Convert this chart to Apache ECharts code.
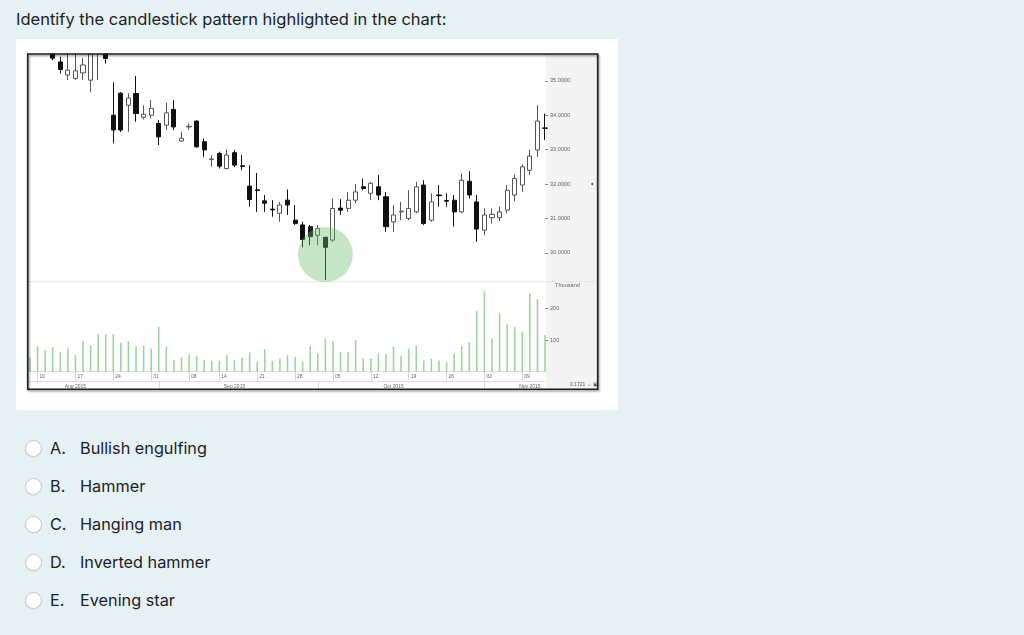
<!DOCTYPE html>
<html lang="en">
<head>
<meta charset="UTF-8">
<script src="https://cdn.jsdelivr.net/npm/echarts@6/dist/echarts.min.js"></script>
<title>candlestick quiz</title>
<style>
  body{margin:0;width:1024px;height:635px;overflow:hidden;background:#e5f1f3;
       font-family:Inter,"Helvetica Neue",Arial,sans-serif;color:#1d2125;position:relative}
  .q{position:absolute;left:16px;top:9px;font-size:16.5px;line-height:20px;white-space:nowrap}
  .panel{position:absolute;left:16px;top:39px;width:602px;height:371px;background:#fff}
  #chart{width:602px;height:371px}
  .radio{position:absolute;left:25px;width:15px;height:15px;border:1px solid #c3c8cb;border-radius:50%;
         background:#fff;box-shadow:0 1px 1px rgba(0,0,0,0.06)}
  .let,.txt{position:absolute;font-size:16.25px;line-height:20px;white-space:nowrap}
  .let{left:50px}
  .txt{left:80px}
</style>
</head>
<body>
<div class="q">Identify the candlestick pattern highlighted in the chart:</div>
<div class="panel"><div id="chart"></div></div>
<div id="opts"></div>
<script type="text/javascript">
// trading days Aug 7 - Nov 12 2015
var dates=['2015-08-07','2015-08-10','2015-08-11','2015-08-12','2015-08-13','2015-08-14',
  '2015-08-17','2015-08-18','2015-08-19','2015-08-20','2015-08-21',
  '2015-08-24','2015-08-25','2015-08-26','2015-08-27','2015-08-28',
  '2015-08-31','2015-09-01','2015-09-02','2015-09-03','2015-09-04',
  '2015-09-08','2015-09-09','2015-09-10','2015-09-11',
  '2015-09-14','2015-09-15','2015-09-16','2015-09-17','2015-09-18',
  '2015-09-21','2015-09-22','2015-09-23','2015-09-24','2015-09-25',
  '2015-09-28','2015-09-29','2015-09-30','2015-10-01','2015-10-02',
  '2015-10-05','2015-10-06','2015-10-07','2015-10-08','2015-10-09',
  '2015-10-12','2015-10-13','2015-10-14','2015-10-15','2015-10-16',
  '2015-10-19','2015-10-20','2015-10-21','2015-10-22','2015-10-23',
  '2015-10-26','2015-10-27','2015-10-28','2015-10-29','2015-10-30',
  '2015-11-02','2015-11-03','2015-11-04','2015-11-05','2015-11-06',
  '2015-11-09','2015-11-10','2015-11-11','2015-11-12'];

var openP =[36.00,36.20,36.30,35.90,35.55,35.17,35.07,35.23,35.02,35.95,35.90,34.00,34.64,34.29,34.63,33.94,34.00,33.76,33.71,34.17,
  33.25,33.66,33.83,33.23,32.71,32.89,32.45,32.91,32.53,31.94,31.83,31.51,31.27,31.15,31.53,30.95,30.81,30.76,30.51,30.45,
  30.37,31.30,31.29,31.53,31.92,31.73,31.92,31.63,30.90,31.19,31.00,31.19,31.97,30.95,31.68,31.52,31.53,31.19,32.08,31.48,
  30.66,31.02,31.02,31.24,31.68,31.97,32.40,32.99,33.63];
var closeP=[35.90,36.40,36.10,35.66,35.33,35.31,35.29,35.46,35.85,36.05,35.65,33.57,33.57,34.50,34.05,34.03,34.20,33.37,34.07,33.66,
  33.33,33.68,33.08,32.99,32.73,32.52,32.84,32.55,32.51,31.55,31.81,31.44,31.25,31.39,31.39,30.85,30.39,30.47,30.71,30.16,
  31.29,31.24,31.53,31.77,31.87,32.02,31.68,30.76,31.10,31.21,31.29,31.92,30.85,31.48,31.66,31.50,31.19,32.11,31.68,30.69,
  31.10,31.12,31.19,31.82,32.16,32.50,32.81,33.83,33.62];
var lowP  =[35.45,35.90,35.85,35.60,35.21,35.02,35.02,35.02,34.68,35.02,35.50,33.18,33.51,33.52,33.81,33.88,33.91,33.13,33.57,33.57,
  33.23,33.57,33.06,32.79,32.50,32.45,32.43,32.49,32.40,31.34,31.19,31.19,31.05,30.90,31.10,30.81,30.16,30.22,30.22,29.21,
  30.32,31.10,31.19,31.44,31.82,31.53,31.53,30.61,30.61,30.95,30.95,31.15,30.81,30.90,31.34,31.34,30.76,31.15,31.58,30.32,
  30.51,30.85,30.92,31.15,31.50,31.77,32.26,32.79,33.28];
var highP =[36.30,36.60,36.50,36.10,35.70,35.90,35.90,35.66,36.00,36.20,36.00,34.96,34.67,34.64,35.14,34.29,34.44,33.86,34.36,34.44,
  33.52,33.76,33.85,33.33,32.84,32.94,33.01,32.99,32.84,32.55,32.32,31.68,31.53,31.48,31.84,31.39,30.90,30.81,30.81,30.46,
  31.58,31.56,31.77,32.00,32.16,32.06,32.26,31.77,31.39,31.48,31.82,32.06,32.11,31.73,31.97,31.73,31.68,32.31,32.37,31.68,
  31.29,31.29,31.34,31.97,32.28,32.57,32.99,34.29,34.05];
// volume, thousands
var volume=[45,81,68,77,62,73,53,97,83,118,118,119,91,96,79,82,73,142,79,35,
  45,55,50,37,35,35,53,37,45,61,31,71,34,42,52,47,32,81,58,105,
  97,63,61,100,42,42,58,56,79,50,73,82,35,42,35,30,58,81,93,192,
  255,105,184,150,142,126,247,229,116];

var priceTicks=[30,31,32,33,34,35];
var volTicks=[100,200];
var weekLabels={1:'10',6:'17',11:'24',16:'31',21:'08',25:'14',30:'21',35:'28',40:'05',45:'12',50:'19',55:'26',60:'02',65:'09'};
var monthLabels={6:'Aug 2015',27:'Sep 2015',48:'Oct 2015',66:'Nov 2015'};
var monthStarts=[17,38,60];
var highlightIdx=39, highlightPrice=29.95;

var chart=echarts.init(document.getElementById('chart'));
var kdata=[];
for(var i=0;i<dates.length;i++){
  kdata.push([openP[i],closeP[i],lowP[i],highP[i]]);
}
var tiny={fontSize:5,color:'#666',fontFamily:'Arial'};
var option={
  animation:false,
  grid:[
    {left:14,top:15,width:515,height:227.7},
    {left:14,top:242.7,width:515,height:90}
  ],
  xAxis:[
    {type:'category',gridIndex:0,data:dates,boundaryGap:false,
     axisLine:{show:false},axisTick:{show:false},axisLabel:{show:false},splitLine:{show:false}},
    {type:'category',gridIndex:1,data:dates,boundaryGap:false,
     axisLine:{lineStyle:{color:'#dcdcdc',width:1}},
     axisTick:{interval:function(idx){return weekLabels[idx]!==undefined;},length:9,lineStyle:{color:'#d6d6d6'}},
     axisLabel:Object.assign({interval:function(idx){return weekLabels[idx]!==undefined;},
       formatter:function(v,idx){return weekLabels[idx]||'';},align:'left',margin:2.5,padding:[0,0,0,2]},tiny)},
    {type:'category',gridIndex:1,data:dates,boundaryGap:false,position:'bottom',offset:10,
     axisLine:{lineStyle:{color:'#dcdcdc',width:1}},
     axisTick:{interval:function(idx){return monthStarts.indexOf(idx)>=0;},length:8,lineStyle:{color:'#d6d6d6'}},
     axisLabel:Object.assign({interval:function(idx){return monthLabels[idx]!==undefined;},
       formatter:function(v,idx){return monthLabels[idx]||'';},margin:2},tiny)}
  ],
  yAxis:[
    {type:'value',gridIndex:0,position:'right',min:29.16,max:35.78,scale:true,
     axisLine:{show:false},splitLine:{show:false},
     axisTick:{show:true,customValues:priceTicks,length:3,lineStyle:{color:'#888'}},
     axisLabel:Object.assign({},tiny,{fontSize:5.6,customValues:priceTicks,margin:5,formatter:function(v){return v.toFixed(4);}})},
    {type:'value',gridIndex:1,position:'right',min:0,max:284,
     name:'Thousand',nameLocation:'end',nameGap:-7,
     nameTextStyle:{fontSize:5.6,color:'#666',fontFamily:'Arial',align:'left',padding:[0,0,0,10]},
     axisLine:{show:false},splitLine:{show:false},
     axisTick:{show:true,customValues:volTicks,length:3,lineStyle:{color:'#888'}},
     axisLabel:Object.assign({},tiny,{fontSize:5.6,customValues:volTicks,margin:5})}
  ],
  graphic:[
    {type:'rect',z:-1,shape:{x:530,y:15,width:51.5,height:335},style:{fill:'#f3f3f3'}},
    // white margin above the plot hides candles that run past the top of the frame
    {type:'rect',z:9,shape:{x:0,y:0,width:602,height:14.6},style:{fill:'#ffffff'}},
    {type:'line',z:5,shape:{x1:12,y1:242.7,x2:582,y2:242.7},style:{stroke:'#e6e6e6',lineWidth:1}},
    {type:'rect',z:10,shape:{x:11.7,y:15,width:570,height:335.3},
     style:{fill:null,stroke:'#1e1e1e',lineWidth:1.6,shadowColor:'rgba(0,0,0,0.45)',shadowBlur:2,shadowOffsetX:1,shadowOffsetY:1.5}},
    {type:'rect',z:6,shape:{x:572.5,y:140.5,width:7,height:9},style:{fill:'#fff',stroke:'#d8d8d8',lineWidth:0.6}},
    {type:'polygon',z:7,shape:{points:[[574.6,145],[577.2,143.3],[577.2,146.7]]},style:{fill:'#555'}},
    {type:'text',z:7,style:{x:554,y:343,text:'0.1721 \u21d4 \u25a3',fontSize:5,fill:'#555',fontFamily:'Arial'}}
  ],
  series:[
    {type:'candlestick',xAxisIndex:0,yAxisIndex:0,data:kdata,barWidth:4.6,clip:true,
     itemStyle:{color:'#ffffff',color0:'#111111',borderColor:'#555555',borderColor0:'#111111',borderWidth:1},
     markPoint:{silent:true,
       data:[{coord:[highlightIdx,highlightPrice],symbol:'circle',symbolSize:55,
              itemStyle:{color:'rgba(105,185,105,0.38)'},label:{show:false}}]}},
    {type:'bar',xAxisIndex:1,yAxisIndex:1,data:volume,barWidth:1.6,
     itemStyle:{color:'#9dd39d'}}
  ]
};
chart.setOption(option);

// answer choices
var letters=['A.','B.','C.','D.','E.'];
var answers=['Bullish engulfing','Hammer','Hanging man','Inverted hammer','Evening star'];
var html='';
for(var k=0;k<answers.length;k++){
  var cy=448+k*38;
  html+='<div class="radio" style="top:'+(cy-8)+'px"></div>'+
        '<div class="let" style="top:'+(cy-10)+'px">'+letters[k]+'</div>'+
        '<div class="txt" style="top:'+(cy-10)+'px">'+answers[k]+'</div>';
}
document.getElementById('opts').innerHTML=html;
</script>
</body>
</html>
